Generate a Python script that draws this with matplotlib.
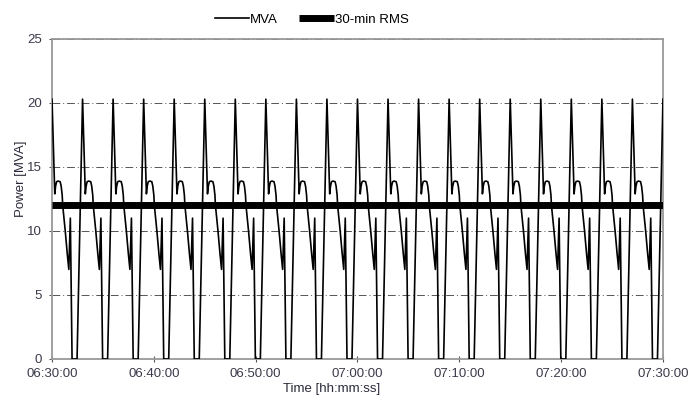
import numpy as np
import matplotlib
matplotlib.use("Agg")
import matplotlib.pyplot as plt
from matplotlib.ticker import FuncFormatter, MultipleLocator

plt.rcParams["font.family"] = ["Liberation Sans", "DejaVu Sans"]

# one load cycle: minutes after each peak, MVA
cycle_offset = [0.0, 0.27, 0.35, 0.45, 0.6, 0.8, 0.9, 1.0, 1.05, 1.3, 1.5, 1.65, 1.8, 1.97, 2.46]
cycle_mva = [20.3, 12.9, 13.5, 13.85, 13.9, 13.85, 13.5, 12.8, 12.0, 10.0, 8.2, 7.0, 11.0, 0.0, 0.0]
# peaks every 3 minutes from 06:30:00 (minutes after 06:30)
cycle_start = [0, 3, 6, 9, 12, 15, 18, 21, 24, 27, 30, 33, 36, 39, 42, 45, 48, 51, 54, 57]
end_time, end_mva = 60.0, 20.3
rms_mva = 12.0
tick_labels = ["06:30:00", "06:40:00", "06:50:00", "07:00:00", "07:10:00", "07:20:00", "07:30:00"]

t = [s + o for s in cycle_start for o in cycle_offset] + [end_time]
mva = [v for s in cycle_start for v in cycle_mva] + [end_mva]

fig = plt.figure(figsize=(6.88, 3.99), dpi=100)
ax = fig.add_axes([0.0756, 0.1003, 0.888, 0.802])

ax.plot(t, mva, color="black", linewidth=1.2, label="MVA", zorder=3)
ax.plot([0, end_time], [rms_mva, rms_mva], color="black", linewidth=5,
        solid_capstyle="butt", label="30-min RMS", zorder=4)

ax.set_xlim(0, 60)
ax.set_ylim(0, 25)
ax.yaxis.set_major_locator(MultipleLocator(5))
ax.xaxis.set_major_locator(MultipleLocator(10))
ax.xaxis.set_major_formatter(FuncFormatter(lambda x, p: tick_labels[int(round(x / 10))] if 0 <= round(x / 10) < len(tick_labels) else ""))
ax.grid(axis="y", color="#555555", linestyle="-.", linewidth=0.7, dashes=(8, 3, 1, 3))
ax.tick_params(axis="x", direction="inout", length=5, pad=4, labelsize=9.5, labelcolor="#3a3a4a", color="#555555")
ax.tick_params(axis="y", direction="out", length=2.5, pad=5, labelsize=9.5, labelcolor="#3a3a4a", color="#555555")
for sp in ax.spines.values():
    sp.set_color("#999999")
    sp.set_linewidth(1.3)

ax.set_xlabel("Time [hh:mm:ss]", fontsize=9.5, color="#2a2a3a")
ax.xaxis.set_label_coords(0.457, -0.075)
ax.set_ylabel("Power [MVA]", fontsize=9.5, color="#2a2a3a")
ax.yaxis.set_label_coords(-0.041, 0.5625)

ax.legend(loc="center", bbox_to_anchor=(0.425, 1.06), ncol=2, frameon=False,
          fontsize=9.5, handlelength=2.6, handletextpad=0.1, columnspacing=1.6,
          borderpad=0.0)

fig.savefig("out.png", dpi=100)
